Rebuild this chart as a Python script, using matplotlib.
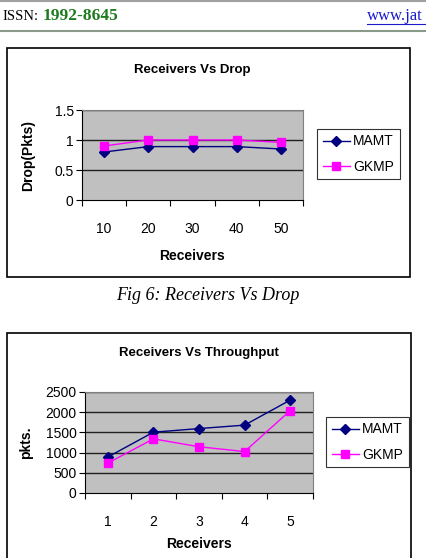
import matplotlib
matplotlib.use("Agg")
import matplotlib.pyplot as plt
from matplotlib.patches import Rectangle
from matplotlib.lines import Line2D

# data
drop_receivers = ["10", "20", "30", "40", "50"]
drop_mamt = [0.80, 0.89, 0.89, 0.89, 0.85]
drop_gkmp = [0.90, 1.00, 1.00, 1.00, 0.96]

thr_receivers = ["1", "2", "3", "4", "5"]
thr_mamt = [890, 1505, 1595, 1680, 2300]
thr_gkmp = [740, 1340, 1145, 1025, 2040]

W, H = 426, 558
plt.rcParams['font.family'] = ['Liberation Sans', 'DejaVu Sans']

fig = plt.figure(figsize=(W / 100, H / 100), dpi=100)
fig.patch.set_facecolor("white")


def fx(px):
    return px / W


def fy(py):
    return 1 - py / H


# page header
fig.add_artist(Line2D([0, 1], [fy(1), fy(1)], color="#a0a0a0", lw=1.5))
fig.add_artist(Line2D([0, 1], [fy(31), fy(31)], color="#8a9a8a", lw=1.5))
fig.text(fx(2), fy(16), "ISSN:", family="Liberation Serif", fontsize=10.5, va="center", ha="left")
fig.text(fx(43), fy(16), "1992-8645", family="Liberation Serif", fontsize=12.5, va="center",
         ha="left", weight="bold", color="#1e7a1e")
fig.text(fx(367), fy(16), "www.jat", family="Liberation Serif", fontsize=12, va="center",
         ha="left", color="#1a1acc")
fig.add_artist(Line2D([fx(367), fx(426)], [fy(24), fy(24)], color="#1a1acc", lw=0.8))

# chart frames
fig.add_artist(Rectangle((fx(7), fy(277)), fx(403), 229 / H, fill=False, ec="black", lw=1.2))
fig.add_artist(Rectangle((fx(7), fy(570)), fx(404), 237 / H, fill=False, ec="black", lw=1.2))

fig.text(fx(208), fy(295), "Fig 6: Receivers Vs Drop", family="Liberation Serif",
         style="italic", fontsize=13, ha="center", va="center")


def excel_chart(ax, cats, mamt, gkmp, ymax, ystep, ylabel, leg_xy):
    x = range(len(cats))
    ax.set_facecolor("#c0c0c0")
    ax.plot(x, mamt, color="#000080", marker="D", ms=5, lw=1, label="MAMT", zorder=3)
    ax.plot(x, gkmp, color="#ff00ff", marker="s", ms=6, lw=1, label="GKMP", zorder=3)
    ax.set_xlim(-0.5, len(cats) - 0.5)
    ax.set_ylim(0, ymax)
    yt = [i * ystep for i in range(int(round(ymax / ystep)) + 1)]
    ax.set_yticks(yt)
    ax.set_yticklabels([("%g" % v) for v in yt], fontsize=10)
    for v in yt[1:]:
        ax.axhline(v, color="#202020", lw=1, zorder=1)
    ax.set_xticks([i - 0.5 for i in range(len(cats) + 1)])
    ax.set_xticklabels([])
    ax.set_xticks(list(x), minor=True)
    ax.set_xticklabels(cats, minor=True, fontsize=10)
    ax.tick_params(axis="x", which="minor", length=0, pad=16)
    ax.tick_params(axis="x", which="major", length=4, direction="out")
    ax.tick_params(axis="y", length=4, direction="out", pad=2)
    for s in ["top", "right"]:
        ax.spines[s].set_color("#808080")
    for s in ["left", "bottom"]:
        ax.spines[s].set_color("black")
    ax.set_xlabel("Receivers", fontsize=10, weight="bold", labelpad=10)
    ax.set_ylabel(ylabel, fontsize=10, weight="bold")
    leg = ax.legend(loc="center left", bbox_to_anchor=leg_xy, bbox_transform=fig.transFigure,
                    fontsize=10, frameon=True, fancybox=False, edgecolor="black",
                    handlelength=2.0, borderpad=0.4, labelspacing=0.8, handletextpad=0.2,
                    borderaxespad=0)
    leg.get_frame().set_linewidth(0.8)


ax1 = fig.add_axes([fx(82), fy(200), fx(221), 90 / H])
excel_chart(ax1, drop_receivers, drop_mamt, drop_gkmp, 1.5, 0.5, "Drop(Pkts)", (fx(317), fy(154)))
ax1.set_title("Receivers Vs Drop", fontsize=9.5, weight="bold", pad=0, y=1.0 + 37 / 90)
ax1.yaxis.set_label_coords(-(82 - 35) / 221, 0.5)
ax1.xaxis.set_label_coords(0.5, -(249 - 200) / 90)

ax2 = fig.add_axes([fx(85), fy(493), fx(228), 101 / H])
excel_chart(ax2, thr_receivers, thr_mamt, thr_gkmp, 2500, 500, "pkts.", (fx(326), fy(442)))
ax2.set_title("Receivers Vs Throughput", fontsize=9.5, weight="bold", pad=0, y=1.0 + 36 / 101)
ax2.yaxis.set_label_coords(-(85 - 33) / 228, 0.5)
ax2.xaxis.set_label_coords(0.5, -(537 - 493) / 101)

fig.savefig("out.png", dpi=100, facecolor="white")
